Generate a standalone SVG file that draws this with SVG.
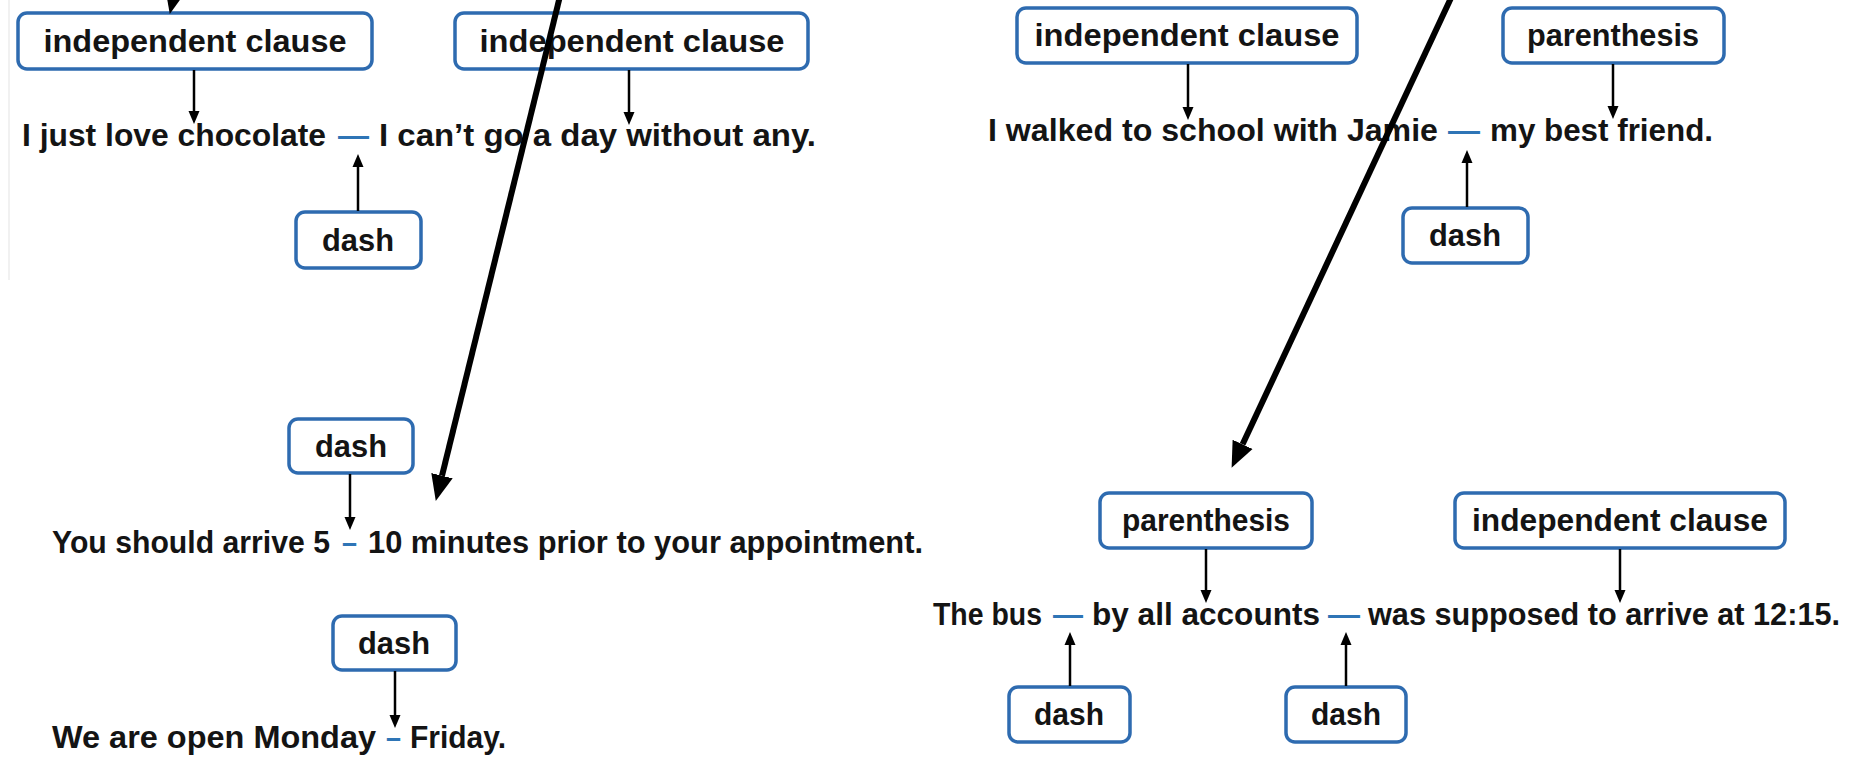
<svg xmlns="http://www.w3.org/2000/svg" width="1851" height="757" viewBox="0 0 1851 757">
<style>
.box{fill:#ffffff;stroke:#2e6bb0;stroke-width:3.5}
.lbl{font-family:"Liberation Sans",Arial,sans-serif;font-weight:bold;font-size:31px;fill:#141414;text-anchor:middle}
.snt{font-family:"Liberation Sans",Arial,sans-serif;font-weight:bold;font-size:31px;fill:#141414}
.dsh{fill:#2e75b6}
.con{stroke:#000;stroke-width:2.5;fill:none}
.big{stroke:#000;stroke-width:6;fill:none}
</style>
<defs>
<marker id="ah" markerUnits="userSpaceOnUse" markerWidth="16" markerHeight="14" refX="0" refY="7" orient="auto" viewBox="0 0 16 14">
<path d="M0,1.5 L13,7 L0,12.5 z" fill="#000"/>
</marker>
<marker id="bh" markerUnits="userSpaceOnUse" markerWidth="28" markerHeight="26" refX="0" refY="13" orient="auto" viewBox="0 0 28 26">
<path d="M0,2 L26,13 L0,24 z" fill="#000"/>
</marker>
</defs>
<rect x="0" y="0" width="1851" height="757" fill="#ffffff"/>
<line x1="9" y1="0" x2="9" y2="280" stroke="#ececec" stroke-width="1.5"/>

<g id="sentences">
<text class="snt" y="146"><tspan x="22" textLength="304" lengthAdjust="spacingAndGlyphs">I just love chocolate</tspan><tspan class="dsh" x="338" textLength="31" lengthAdjust="spacingAndGlyphs">—</tspan><tspan x="379" textLength="437" lengthAdjust="spacingAndGlyphs">I can’t go a day without any.</tspan></text>

<text class="snt" y="141"><tspan x="988" textLength="450" lengthAdjust="spacingAndGlyphs">I walked to school with Jamie</tspan><tspan class="dsh" x="1448" textLength="32" lengthAdjust="spacingAndGlyphs">—</tspan><tspan x="1490" textLength="223" lengthAdjust="spacingAndGlyphs">my best friend.</tspan></text>

<text class="snt" y="553"><tspan x="52" textLength="278" lengthAdjust="spacingAndGlyphs">You should arrive 5</tspan><tspan class="dsh" x="342" textLength="15" lengthAdjust="spacingAndGlyphs">–</tspan><tspan x="368" textLength="555" lengthAdjust="spacingAndGlyphs">10 minutes prior to your appointment.</tspan></text>

<text class="snt" y="748"><tspan x="52" textLength="324" lengthAdjust="spacingAndGlyphs">We are open Monday</tspan><tspan class="dsh" x="386" textLength="15" lengthAdjust="spacingAndGlyphs">–</tspan><tspan x="410" textLength="96" lengthAdjust="spacingAndGlyphs">Friday.</tspan></text>

<text class="snt" y="625"><tspan x="933" textLength="109" lengthAdjust="spacingAndGlyphs">The bus</tspan><tspan class="dsh" x="1053" textLength="30" lengthAdjust="spacingAndGlyphs">—</tspan><tspan x="1092" textLength="228" lengthAdjust="spacingAndGlyphs">by all accounts</tspan><tspan class="dsh" x="1328" textLength="32" lengthAdjust="spacingAndGlyphs">—</tspan><tspan x="1368" textLength="472" lengthAdjust="spacingAndGlyphs">was supposed to arrive at 12:15.</tspan></text>
</g>

<g id="n1"><rect class="box" x="18" y="13" width="354" height="56" rx="9"/><text class="lbl" x="195" y="52" textLength="303" lengthAdjust="spacingAndGlyphs">independent clause</text></g>
<g id="n2"><rect class="box" x="455" y="13" width="353" height="56" rx="9"/><text class="lbl" x="632" y="52" textLength="305" lengthAdjust="spacingAndGlyphs">independent clause</text></g>
<g id="n3"><rect class="box" x="296" y="212" width="125" height="56" rx="9"/><text class="lbl" x="358" y="251" textLength="72" lengthAdjust="spacingAndGlyphs">dash</text></g>
<g id="n4"><rect class="box" x="1017" y="8" width="340" height="55" rx="9"/><text class="lbl" x="1187" y="46" textLength="305" lengthAdjust="spacingAndGlyphs">independent clause</text></g>
<g id="n5"><rect class="box" x="1503" y="8" width="221" height="55" rx="9"/><text class="lbl" x="1613" y="46" textLength="172" lengthAdjust="spacingAndGlyphs">parenthesis</text></g>
<g id="n6"><rect class="box" x="1403" y="208" width="125" height="55" rx="9"/><text class="lbl" x="1465" y="246" textLength="72" lengthAdjust="spacingAndGlyphs">dash</text></g>
<g id="n7"><rect class="box" x="289" y="419" width="124" height="54" rx="9"/><text class="lbl" x="351" y="457" textLength="72" lengthAdjust="spacingAndGlyphs">dash</text></g>
<g id="n8"><rect class="box" x="333" y="616" width="123" height="54" rx="9"/><text class="lbl" x="394" y="654" textLength="72" lengthAdjust="spacingAndGlyphs">dash</text></g>
<g id="n9"><rect class="box" x="1100" y="493" width="212" height="55" rx="9"/><text class="lbl" x="1206" y="531" textLength="168" lengthAdjust="spacingAndGlyphs">parenthesis</text></g>
<g id="n10"><rect class="box" x="1455" y="493" width="330" height="55" rx="9"/><text class="lbl" x="1620" y="531" textLength="296" lengthAdjust="spacingAndGlyphs">independent clause</text></g>
<g id="n11"><rect class="box" x="1009" y="687" width="121" height="55" rx="9"/><text class="lbl" x="1069" y="725" textLength="70" lengthAdjust="spacingAndGlyphs">dash</text></g>
<g id="n12"><rect class="box" x="1286" y="687" width="120" height="55" rx="9"/><text class="lbl" x="1346" y="725" textLength="70" lengthAdjust="spacingAndGlyphs">dash</text></g>

<g id="connectors">
<line class="con" x1="194" y1="70" x2="194" y2="111" marker-end="url(#ah)"/>
<line class="con" x1="629" y1="70" x2="629" y2="112" marker-end="url(#ah)"/>
<line class="con" x1="1188" y1="64" x2="1188" y2="107" marker-end="url(#ah)"/>
<line class="con" x1="1613" y1="64" x2="1613" y2="106" marker-end="url(#ah)"/>
<line class="con" x1="350" y1="474" x2="350" y2="517" marker-end="url(#ah)"/>
<line class="con" x1="395" y1="671" x2="395" y2="715" marker-end="url(#ah)"/>
<line class="con" x1="1206" y1="549" x2="1206" y2="590" marker-end="url(#ah)"/>
<line class="con" x1="1620" y1="549" x2="1620" y2="590" marker-end="url(#ah)"/>
<line class="con" x1="358" y1="211" x2="358" y2="167" marker-end="url(#ah)"/>
<line class="con" x1="1467" y1="207" x2="1467" y2="163" marker-end="url(#ah)"/>
<line class="con" x1="1070" y1="686" x2="1070" y2="645" marker-end="url(#ah)"/>
<line class="con" x1="1346" y1="686" x2="1346" y2="645" marker-end="url(#ah)"/>
<line class="big" x1="561.5" y1="-10" x2="442" y2="475.7" marker-end="url(#bh)"/>
<line class="big" x1="1454.7" y1="-10" x2="1242.6" y2="444.3" marker-end="url(#bh)"/>
<line class="big" x1="184" y1="-48" x2="175.6" y2="-11.4" marker-end="url(#bh)"/>
</g>
</svg>
